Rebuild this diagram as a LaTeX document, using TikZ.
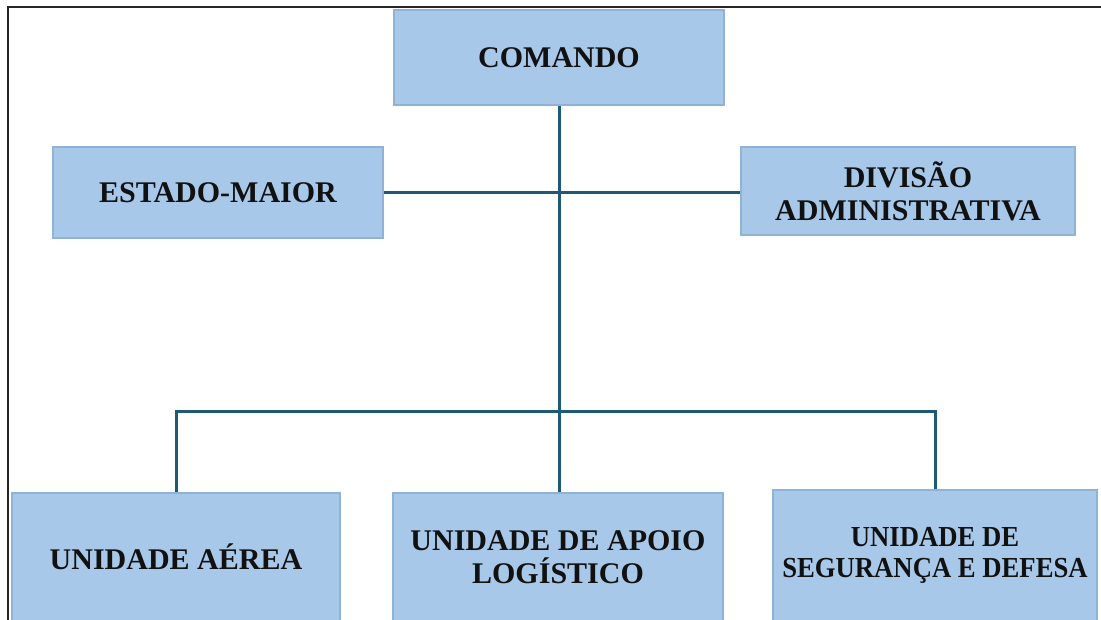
\documentclass[tikz,border=0pt]{standalone}
\usepackage{fontspec}
\setmainfont{Liberation Serif}
\definecolor{boxfill}{HTML}{A7C8E9}
\definecolor{boxedge}{HTML}{8FB3D6}
\definecolor{linkcol}{HTML}{1E5A78}
\definecolor{txtcol}{HTML}{111111}
\tikzset{
  orgbox/.style={draw=boxedge, line width=1.5pt, fill=boxfill, align=center,
    inner sep=0pt, text=txtcol,
    font=\fontsize{30}{33}\selectfont\bfseries},
  link/.style={draw=linkcol, line width=3pt}
}
\begin{document}
\begin{tikzpicture}[x=1pt,y=-1pt]
\useasboundingbox (0,0) rectangle (1101,619);
\fill[white] (0,0) rectangle (1101,619);
% outer frame
\draw[line width=2pt, black!85] (8,630) -- (8,7) -- (1115,7);
\node[orgbox, minimum width=330pt, minimum height=95pt] (cmd) at (559,57.5) {COMANDO};
\node[orgbox, minimum width=330pt, minimum height=91pt] (em) at (218,192.5) {ESTADO-MAIOR};
\node[orgbox, minimum width=334pt, minimum height=88pt] (div) at (908,191) {DIVISÃO\\ADMINISTRATIVA};
\node[orgbox, minimum width=328pt, minimum height=128pt] (ua) at (176,557) {UNIDADE AÉREA};
\node[orgbox, minimum width=330pt, minimum height=128pt] (uap) at (558,557) {UNIDADE DE APOIO\\LOGÍSTICO};
\node[orgbox, minimum width=324pt, minimum height=131pt, font=\fontsize{29}{31}\selectfont\bfseries\addfontfeatures{FakeStretch=0.92}] (usd) at (935,555.5) {UNIDADE DE\\SEGURANÇA E DEFESA};
\coordinate (bus) at (559,411);
\draw[link] (cmd.south) -- (cmd.south |- uap.north);
\draw[link] (em.east) -- (em.east -| div.west);
\draw[link] (ua.north) |- (bus) -| (usd.north);
\end{tikzpicture}
\end{document}
